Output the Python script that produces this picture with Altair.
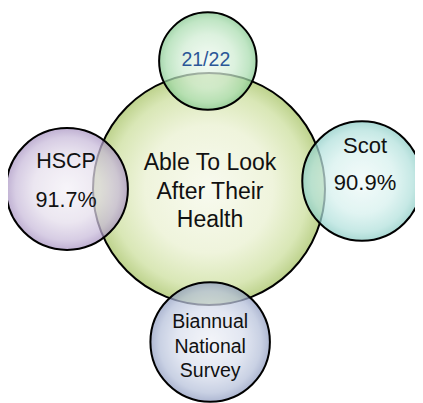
import altair as alt
import pandas as pd

# ---- data ----
nodes = ["centre", "year", "hscp", "scot", "survey"]
titles = ["Able To Look\nAfter Their\nHealth", "21/22", "HSCP", "Scot", "Biannual\nNational\nSurvey"]
values = [None, None, 91.7, 90.9, None]

# ---- layout (units of the centre radius) ----
layout_dx = [0.0, -0.01, -1.224, 1.319, 0.01]
layout_dy = [0.0, -1.103, 0.0, -0.069, 1.319]
layout_r = [1.0, 0.42, 0.525, 0.515, 0.515]

labels = []
for t, v in zip(titles, values):
    labels.append(t if v is None else f"{t}\n{v}%")

df = pd.DataFrame({"node": nodes, "label": labels, "dx": layout_dx,
                   "dy": layout_dy, "r": layout_r})

W, H = 407, 395
UNIT = 116.0
CX, CY = 201.0, 181.0
xs = alt.Scale(domain=[-CX / UNIT, (W - CX) / UNIT], nice=False, zero=False)
ys = alt.Scale(domain=[-CY / UNIT, (H - CY) / UNIT], nice=False, zero=False, reverse=True)
ss = alt.Scale(type="pow", exponent=2, domain=[0, 1], range=[0, (2 * UNIT) ** 2])

base = alt.Chart(df).encode(
    x=alt.X("dx:Q", scale=xs, axis=None),
    y=alt.Y("dy:Q", scale=ys, axis=None),
)

def grad(stops):
    return {"gradient": "radial", "x1": 0.5, "y1": 0.5, "r1": 0, "x2": 0.5, "y2": 0.5, "r2": 0.5,
            "stops": [{"offset": o, "color": c} for o, c in stops]}

fills = {
    "centre": [(0, "#f8faef"), (0.55, "#eff4dc"), (0.85, "#d9e7b6"), (1, "#bdd28c")],
    "year": [(0, "#eff9f0"), (0.55, "#cfecd2"), (0.85, "#a8dcae"), (1, "#84c78e")],
    "hscp": [(0, "#f4f1f7"), (0.55, "#e4ddeb"), (0.85, "#c7b9d9"), (1, "#a792c1")],
    "scot": [(0, "#eff9f8"), (0.55, "#d5f0ed"), (0.85, "#b0e0db"), (1, "#8acbc4")],
    "survey": [(0, "#eff1f7"), (0.55, "#d7ddec"), (0.85, "#b4bfd9"), (1, "#8e9bc0")],
}

layers = []
for n in nodes:
    layers.append(
        base.transform_filter(alt.datum.node == n).mark_circle(
            fill=grad(fills[n]), stroke="#000000", strokeWidth=2, strokeOpacity=1,
            opacity=1, fillOpacity=1.0 if n == "centre" else 0.72,
        ).encode(size=alt.Size("r:Q", scale=ss, legend=None))
    )

text_style = {
    "centre": dict(fontSize=23, dx=1, dy=-19, lineHeight=28.5, color="#111111"),
    "year": dict(fontSize=19.5, dx=-2, dy=5, lineHeight=24, color="#2b5797"),
    "hscp": dict(fontSize=21.5, dx=-1, dy=-21, lineHeight=39, color="#111111"),
    "scot": dict(fontSize=22, dx=3, dy=-28, lineHeight=37, color="#111111"),
    "survey": dict(fontSize=19.5, dx=0, dy=-14, lineHeight=24.5, color="#111111"),
}
for n in nodes:
    st = text_style[n]
    layers.append(
        base.transform_filter(alt.datum.node == n).mark_text(
            font="Liberation Sans", align="center", baseline="alphabetic",
            lineBreak="\n", **st
        ).encode(text="label:N")
    )

chart = alt.layer(*layers).properties(
    width=W, height=H, autosize=alt.AutoSizeParams(type="none"), padding=0,
    background="white",
).configure_view(stroke=None)

chart.save("out.html", embed_options={"renderer": "svg", "actions": False})
